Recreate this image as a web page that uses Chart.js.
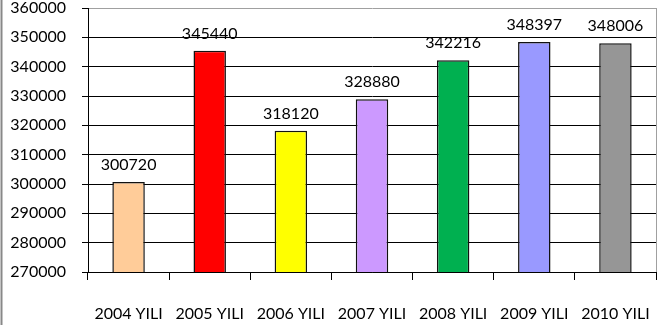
<!DOCTYPE html>
<html>
<head>
<meta charset="utf-8">
<script src="https://cdn.jsdelivr.net/npm/chart.js@4/dist/chart.umd.min.js"></script>
<style>
  html, body { margin: 0; padding: 0; background: #fff; }
  #wrap { width: 667px; height: 325px; position: relative; }
</style>
</head>
<body>
<div id="wrap"><canvas id="c" width="667" height="325"></canvas></div>
<script>
// Yearly totals
const years = ['2004 YILI', '2005 YILI', '2006 YILI', '2007 YILI', '2008 YILI', '2009 YILI', '2010 YILI'];
const totals = [300720, 345440, 318120, 328880, 342216, 348397, 348006];
const barColors = ['#FFCC99', '#FF0000', '#FFFF00', '#CC99FF', '#00B050', '#9999FF', '#969696'];
const yMin = 270000;
const yMax = 360000;
const yStep = 10000;

const FONT = "Lato, 'DejaVu Sans Condensed', sans-serif";
const FSIZE = 16;

// Value labels drawn above each bar
const valueLabels = {
  id: 'valueLabels',
  afterDatasetsDraw(chart) {
    const ctx = chart.ctx;
    const meta = chart.getDatasetMeta(0);
    ctx.save();
    ctx.font = FSIZE + 'px ' + FONT;
    ctx.fillStyle = '#000';
    ctx.textAlign = 'center';
    ctx.textBaseline = 'alphabetic';
    meta.data.forEach((bar, i) => {
      ctx.fillText(String(chart.data.datasets[0].data[i]), bar.x, bar.y - 12);
    });
    ctx.restore();
  }
};

// Grey frame on the right of the plot and the outer left edge line
const frame = {
  id: 'frame',
  afterDraw(chart) {
    const ctx = chart.ctx;
    const a = chart.chartArea;
    ctx.save();
    ctx.strokeStyle = '#a0a0a0';
    ctx.lineWidth = 1;
    ctx.beginPath();
    ctx.moveTo(Math.round(a.right) + 0.5, a.top);
    ctx.lineTo(Math.round(a.right) + 0.5, a.bottom);
    ctx.stroke();
    ctx.strokeStyle = '#888';
    ctx.lineWidth = 2;
    ctx.beginPath();
    ctx.moveTo(1.5, 0);
    ctx.lineTo(1.5, chart.height);
    ctx.stroke();
    ctx.restore();
  }
};

new Chart(document.getElementById('c'), {
  type: 'bar',
  data: {
    labels: years,
    datasets: [{
      data: totals,
      backgroundColor: barColors,
      borderColor: '#111',
      borderWidth: 1.5,
      borderSkipped: false,
      categoryPercentage: 0.4,
      barPercentage: 1.0
    }]
  },
  options: {
    responsive: false,
    animation: false,
    devicePixelRatio: 1,
    layout: { padding: { left: 0, right: 11, top: 8, bottom: 0 } },
    plugins: {
      legend: { display: false },
      tooltip: { enabled: false }
    },
    scales: {
      x: {
        grid: {
          offset: true,
          drawOnChartArea: false,
          drawTicks: true,
          tickLength: 8,
          color: '#000',
          tickColor: '#000'
        },
        border: { display: true, color: '#000', width: 1 },
        ticks: {
          color: '#000',
          font: { family: FONT, size: FSIZE },
          padding: 24,
          maxRotation: 0,
          autoSkip: false
        },
        afterFit(scale) {
          scale.height = 53;
          scale.paddingLeft = 0;
          scale.paddingRight = 0;
        }
      },
      y: {
        min: yMin,
        max: yMax,
        grid: {
          color: (c) => (c.tick && c.tick.value === yMax) ? '#a0a0a0' : '#000',
          tickColor: '#000',
          tickLength: 6,
          lineWidth: 1
        },
        border: { display: true, color: '#000', width: 1 },
        ticks: {
          stepSize: yStep,
          color: '#000',
          padding: 16,
          font: { family: FONT, size: FSIZE },
          callback: (v) => String(v)
        },
        afterFit(scale) {
          scale.width = 88;
          scale.paddingTop = 0;
          scale.paddingBottom = 0;
        }
      }
    }
  },
  plugins: [valueLabels, frame]
});
</script>
</body>
</html>
